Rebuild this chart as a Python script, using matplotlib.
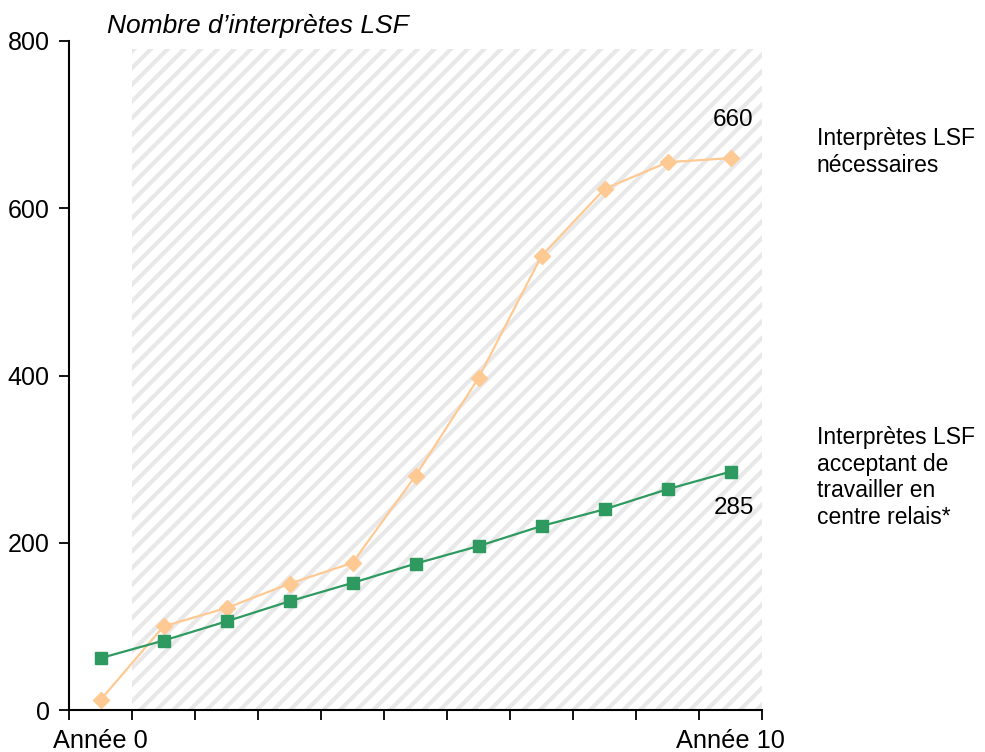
import matplotlib
matplotlib.use("Agg")
import matplotlib.pyplot as plt
from matplotlib.patches import Rectangle

plt.rcParams['font.family'] = ['Liberation Sans', 'DejaVu Sans']
plt.rcParams['hatch.color'] = '#e8e8e8'
plt.rcParams['hatch.linewidth'] = 3.0

years = list(range(11))
needed = [12, 100, 122, 151, 176, 280, 397, 543, 623, 655, 660]
accepting = [62, 83, 106, 130, 152, 175, 196, 220, 240, 264, 285]
yticks = [0, 200, 400, 600, 800]
orange = '#ffc993'
green = '#2e9a5f'

fig = plt.figure(figsize=(9.85, 7.52), dpi=100)
ax = fig.add_axes([69/985, 42/752, 693/985, 669/752])
ax.set_xlim(0, 11)
ax.set_ylim(0, 800)

ax.add_patch(Rectangle((1, 0), 10, 790, facecolor='white', edgecolor='#e8e8e8',
                       hatch='//', linewidth=0, zorder=0))

xs = [y + 0.5 for y in years]
ax.plot(xs, needed, color=orange, lw=1.6, marker='D', ms=8.5, mec=orange, mfc=orange, zorder=3)
ax.plot(xs, accepting, color=green, lw=1.6, marker='s', ms=8, mec=green, mfc=green, zorder=4)

for s in ['top', 'right']:
    ax.spines[s].set_visible(False)
ax.spines['left'].set_linewidth(1.5)
ax.spines['bottom'].set_linewidth(1.5)
ax.set_xticks(range(12))
ax.set_xticklabels([])
ax.set_yticks(yticks)
ax.set_yticklabels([str(v) for v in yticks], fontsize=18)
ax.tick_params(axis='both', direction='out', length=7, width=1.3, colors='black')
ax.tick_params(axis='y', pad=7)

ax.text(xs[0], -37, 'Année 0', ha='center', va='center', fontsize=18.3, clip_on=False)
ax.text(xs[-1], -37, 'Année 10', ha='center', va='center', fontsize=18.3, clip_on=False)
ax.text(0.6, 818, 'Nombre d\u2019interprètes LSF', ha='left', va='center', fontsize=19,
        style='italic', clip_on=False)

ax.text(10.87, 705, str(needed[-1]), ha='right', va='center', fontsize=17.5)
ax.text(10.87, 241, str(accepting[-1]), ha='right', va='center', fontsize=17.5)

ax.text(11.87, 667, 'Interprètes LSF\nnécessaires', ha='left', va='center', fontsize=16.5,
        linespacing=1.2, clip_on=False)
ax.text(11.87, 278, 'Interprètes LSF\nacceptant de\ntravailler en\ncentre relais*', ha='left',
        va='center', fontsize=16.5, linespacing=1.2, clip_on=False)

fig.savefig('out.png', dpi=100)
